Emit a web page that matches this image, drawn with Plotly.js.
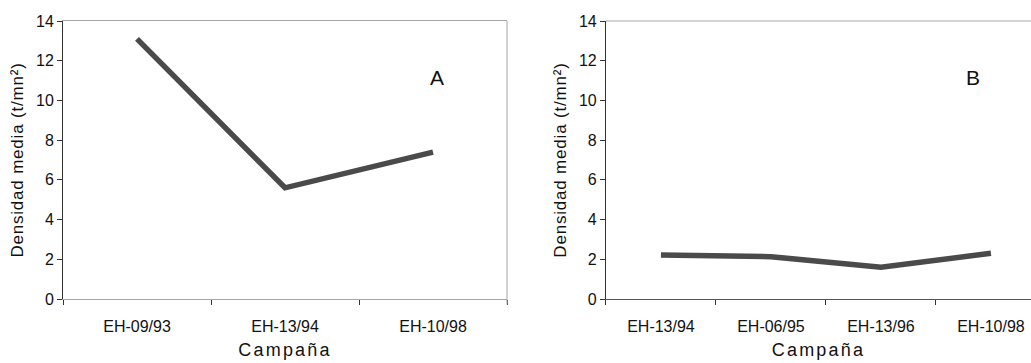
<!DOCTYPE html>
<html><head><meta charset="utf-8">
<script src="https://cdn.plot.ly/plotly-3.0.1.min.js"></script>
<style>
html,body{margin:0;padding:0;background:#fff;overflow:hidden}
.xtitle,.x2title{letter-spacing:2.2px}
.ytitle,.y2title{letter-spacing:0.8px}
</style>
</head><body>
<div id="chart" style="width:1031px;height:363px"></div>
<script>
const campaignsA = ["EH-09/93", "EH-13/94", "EH-10/98"];
const densityA = [13.1, 5.6, 7.4];
const campaignsB = ["EH-13/94", "EH-06/95", "EH-13/96", "EH-10/98"];
const densityB = [2.22, 2.13, 1.6, 2.3];
const yTicks = [0, 2, 4, 6, 8, 10, 12, 14];

const lineStyle = {color: "#4a4a4a", width: 5.5};
const FAM = "Liberation Sans, Arial, sans-serif";
const font = {family: FAM, color: "#111"};

const traces = [
  {x: campaignsA, y: densityA, type: "scatter", mode: "lines", line: lineStyle, xaxis: "x", yaxis: "y", hoverinfo: "skip"},
  {x: campaignsB, y: densityB, type: "scatter", mode: "lines", line: lineStyle, xaxis: "x2", yaxis: "y2", hoverinfo: "skip"}
];

const xCommon = {
  type: "category", tickson: "boundaries", ticks: "outside", ticklen: 5, tickcolor: "#333",
  tickfont: {size: 16, family: FAM, color: "#111"}, showgrid: false, zeroline: false,
  showline: true, fixedrange: true, ticklabelstandoff: 13
};
const yCommon = {
  range: [0, 14], tickvals: yTicks, ticks: "outside", ticklen: 5, tickcolor: "#333",
  tickfont: {size: 16, family: FAM, color: "#111"}, showgrid: false, zeroline: false,
  showline: true, linecolor: "#333", linewidth: 1, fixedrange: true,
  title: {text: "Densidad media (t/mn²)", font: {size: 17, family: FAM, color: "#111"}, standoff: 8}
};

const layout = {
  width: 1031, height: 363,
  margin: {l: 63, r: 0, t: 21, b: 64},
  paper_bgcolor: "#fff", plot_bgcolor: "#fff",
  showlegend: false,
  font: font,
  xaxis: Object.assign({}, xCommon, {
    domain: [0, 0.4587], range: [-0.5, 2.5], linecolor: "#a6a6a6", mirror: true, anchor: "y",
    title: {text: "Campaña", font: {size: 18, family: FAM, color: "#111"}, standoff: 9}
  }),
  yaxis: Object.assign({}, yCommon, {anchor: "x"}),
  xaxis2: Object.assign({}, xCommon, {
    domain: [0.5609, 1], range: [-0.5, 3.364], linecolor: "#555", anchor: "y2",
    title: {text: "Campaña", font: {size: 18, family: FAM, color: "#111"}, standoff: 9}
  }),
  yaxis2: Object.assign({}, yCommon, {anchor: "x2"}),
  shapes: [
    {type: "line", xref: "x domain", yref: "y domain", x0: 1, x1: 1, y0: -0.02, y1: 1, line: {color: "#a6a6a6", width: 1}},
    {type: "line", xref: "x2 domain", yref: "y2 domain", x0: 0, x1: 1, y0: 1, y1: 1, line: {color: "#a6a6a6", width: 1}}
  ],
  annotations: [
    {text: "A", xref: "x domain", yref: "y domain", x: 0.842, y: 0.795, xanchor: "center", yanchor: "middle", showarrow: false, font: {size: 21, family: FAM, color: "#111"}},
    {text: "B", xref: "x2 domain", yref: "y2 domain", x: 0.864, y: 0.795, xanchor: "center", yanchor: "middle", showarrow: false, font: {size: 21, family: FAM, color: "#111"}}
  ]
};

Plotly.newPlot("chart", traces, layout, {staticPlot: true, displayModeBar: false});
</script>
</body></html>
